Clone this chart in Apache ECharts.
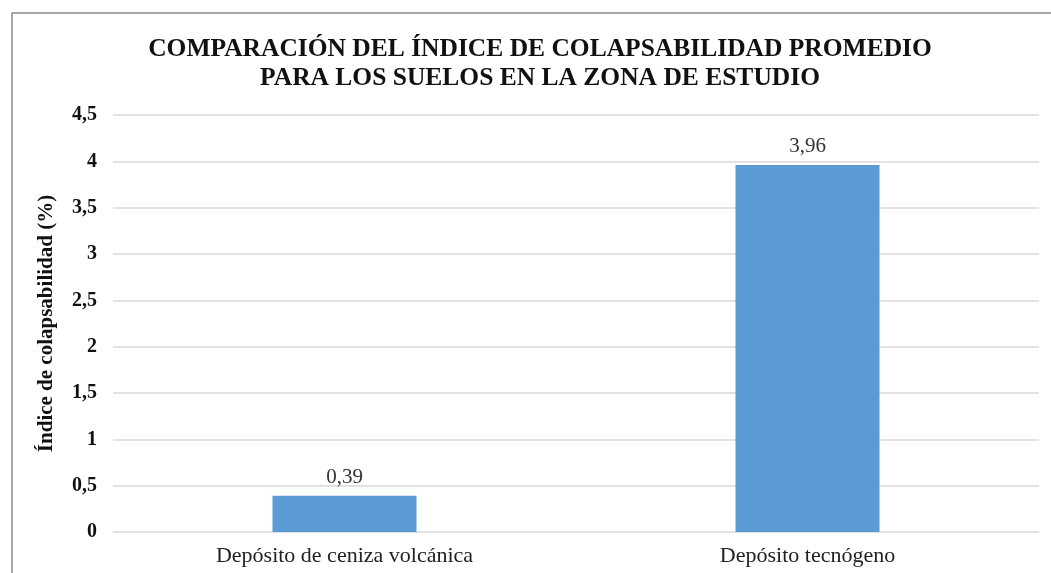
<!DOCTYPE html>
<html>
<head>
<meta charset="utf-8">
<script src="https://cdn.jsdelivr.net/npm/echarts@6/dist/echarts.min.js"></script>
<style>
  html, body { margin: 0; padding: 0; background: #fff; }
  #chart { width: 1051px; height: 573px; }
</style>
</head>
<body>
<div id="chart"></div>
<script>
  // datos del gráfico
  const categorias = ['Depósito de ceniza volcánica', 'Depósito tecnógeno']
  const indiceColapso = [0.39, 3.96]
  const titulo = 'COMPARACIÓN DEL ÍNDICE DE COLAPSABILIDAD PROMEDIO\nPARA LOS SUELOS EN LA ZONA DE ESTUDIO'
  const nombreEjeY = 'Índice de colapsabilidad (%)'

  const serif = '"Liberation Serif", "Times New Roman", serif'
  const fmt = v => String(v).replace('.', ',')

  let myChart = echarts.init(document.getElementById('chart'))
  myChart.setOption({
    backgroundColor: '#fff',
    textStyle: { fontFamily: serif },
    graphic: [
      {
        type: 'rect',
        shape: { x: 12, y: 13, width: 1100, height: 600 },
        style: { fill: 'none', stroke: '#8c8c8c', lineWidth: 1.5 },
        silent: true
      }
    ],
    title: {
      text: titulo,
      left: 535,
      top: 30,
      textAlign: 'center',
      textStyle: {
        fontFamily: serif,
        fontSize: 25.5,
        fontWeight: 'bold',
        color: '#111',
        lineHeight: 29
      }
    },
    grid: {
      left: 113,
      right: 12,
      top: 115,
      bottom: 41
    },
    xAxis: {
      type: 'category',
      data: categorias,
      axisLine: { show: false },
      axisTick: { show: false },
      axisLabel: {
        fontFamily: serif,
        fontSize: 22,
        color: '#222',
        margin: 13
      }
    },
    yAxis: {
      type: 'value',
      min: 0,
      max: 4.5,
      interval: 0.5,
      name: nombreEjeY,
      nameLocation: 'middle',
      nameGap: 56,
      nameTextStyle: {
        fontFamily: serif,
        fontSize: 21,
        fontWeight: 'bold',
        color: '#111'
      },
      axisLine: { show: false },
      axisTick: { show: false },
      axisLabel: {
        fontFamily: serif,
        fontSize: 20,
        fontWeight: 'bold',
        color: '#111',
        margin: 16,
        formatter: v => fmt(v)
      },
      splitLine: { lineStyle: { color: '#d9d9d9', width: 1.5 } }
    },
    series: [
      {
        type: 'bar',
        data: indiceColapso,
        barWidth: 144,
        itemStyle: { color: '#5b9bd5' },
        label: {
          show: true,
          position: 'top',
          distance: 8,
          fontFamily: serif,
          fontSize: 21,
          color: '#333',
          formatter: p => fmt(p.value)
        }
      }
    ]
  })
</script>
</body>
</html>
